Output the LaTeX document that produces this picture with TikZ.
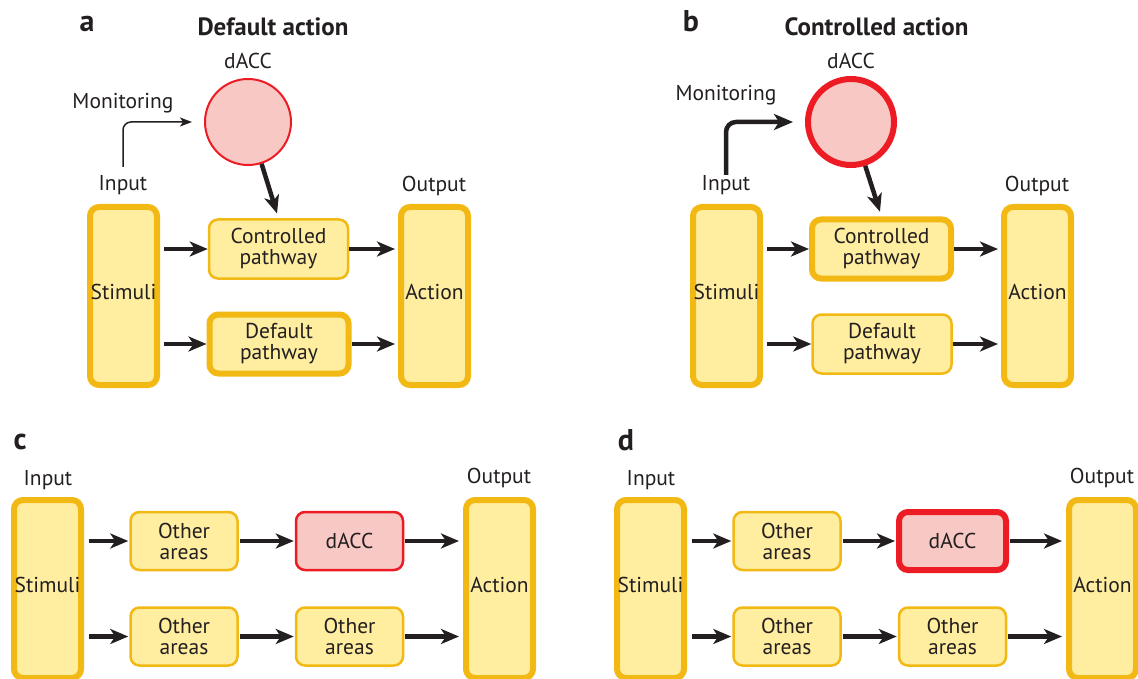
\documentclass[tikz,border=0pt]{standalone}
\usepackage{fontspec}
\setmainfont{PT Sans}
\usetikzlibrary{arrows.meta}

\definecolor{boxFill}{RGB}{255,237,160}
\definecolor{boxLine}{RGB}{242,185,20}
\definecolor{accFill}{RGB}{248,200,196}
\definecolor{accLine}{RGB}{237,28,36}
\definecolor{ink}{RGB}{35,31,32}

\tikzset{
	every node/.append style={text=ink, font=\fontsize{21.5}{21}\selectfont},
	box/.style={draw=boxLine, fill=boxFill, rounded corners=9pt, align=center, inner sep=0pt},
	thinEdge/.style={line width=2.5pt},
	thickEdge/.style={line width=6pt},
	stimBox/.style={box, thickEdge, minimum width=67pt, minimum height=178pt, text depth=8pt},
	pathBox/.style={box, minimum width=139pt, minimum height=59pt},
	areaBox/.style={box, minimum width=107pt, minimum height=58pt},
	acc/.style={draw=accLine, fill=accFill},
	accCircle/.style={circle, acc, minimum size=86pt, inner sep=0pt},
	flowArrow/.style={draw=ink, line width=4.5pt, -{Stealth[length=18pt, width=15pt, inset=5pt]}},
	monitorThin/.style={draw=ink, line width=1.5pt, rounded corners=8pt, -{Stealth[length=12pt, width=9pt, inset=3pt]}},
	monitorThick/.style={draw=ink, line width=4.5pt, rounded corners=10pt, -{Stealth[length=19pt, width=16pt, inset=5pt]}},
	letter/.style={font=\bfseries\fontsize{30}{30}\selectfont},
	heading/.style={font=\bfseries\fontsize{25}{25}\selectfont},
}

% #1 x offset, #2 prefix, #3 controlled edge, #4 default edge,
% #5 dACC edge, #6 monitoring arrow, #7 monitoring label y, #8 monitoring start y
\newcommand{\actionPanel}[8]{
	\node[accCircle, #5] (#2acc) at ({#1+248}, 122) {};
	\node[stimBox] (#2stim) at ({#1+123.5}, 296) {Stimuli};
	\node[stimBox] (#2act) at ({#1+434.5}, 296) {Action};
	\node[pathBox, #3] (#2ctrl) at ({#1+278.5}, 249) {Controlled\\pathway};
	\node[pathBox, #4] (#2def) at ({#1+279}, 344) {Default\\pathway};

	\path ({#1+248}, 61) node (#2accText) {dACC};
	\path ({#1+123}, #7) node (#2monText) {Monitoring};
	\path ({#1+123}, 185.5) node (#2inText) {Input};
	\path ({#1+434}, 185.5) node (#2outText) {Output};

	\coordinate (#2mon) at ({#1+123}, #8);
	\draw[#6, shorten >=12pt] (#2mon) |- (#2acc.west);
	\draw[flowArrow, shorten >=5pt] (#2acc.-72) -- (#2ctrl.north);

	\draw[flowArrow, shorten <=4pt] (#2stim.east |- #2ctrl.west) -- (#2ctrl.west);
	\draw[flowArrow, shorten <=4pt] (#2stim.east |- #2def.west) -- (#2def.west);
	\draw[flowArrow, shorten >=3pt] (#2ctrl.east) -- (#2act.west |- #2ctrl.east);
	\draw[flowArrow, shorten >=3pt] (#2def.east) -- (#2act.west |- #2def.east);
}

% #1 x offset, #2 prefix, #3 dACC edge
\newcommand{\areaPanel}[3]{
	\node[stimBox] (#2stim) at ({#1+47.5}, 589) {Stimuli};
	\node[stimBox] (#2act) at ({#1+499.5}, 589) {Action};
	\node[areaBox, thinEdge] (#2upA) at ({#1+184}, 541) {Other\\areas};
	\node[areaBox, acc, #3] (#2upB) at ({#1+349.5}, 541) {dACC};
	\node[areaBox, thinEdge] (#2lowA) at ({#1+184}, 636.5) {Other\\areas};
	\node[areaBox, thinEdge] (#2lowB) at ({#1+349.5}, 636.5) {Other\\areas};

	\path ({#1+48}, 480) node (#2inText) {Input};
	\path ({#1+499}, 477.5) node (#2outText) {Output};

	\draw[flowArrow, shorten <=5pt, shorten >=1pt] (#2stim.east |- #2upA.west) -- (#2upA.west);
	\draw[flowArrow, shorten <=5pt, shorten >=1pt] (#2stim.east |- #2lowA.west) -- (#2lowA.west);
	\draw[flowArrow, shorten <=1pt, shorten >=1pt] (#2upA.east) -- (#2upB.west);
	\draw[flowArrow, shorten <=1pt, shorten >=1pt] (#2lowA.east) -- (#2lowB.west);
	\draw[flowArrow, shorten <=1pt, shorten >=4pt] (#2upB.east) -- (#2act.west |- #2upB.east);
	\draw[flowArrow, shorten <=1pt, shorten >=4pt] (#2lowB.east) -- (#2act.west |- #2lowB.east);
}

\begin{document}
\begin{tikzpicture}[x=1pt, y=-1pt]
	\useasboundingbox (0,0) rectangle (1138,679);

	\actionPanel{0}{A}{thinEdge}{thickEdge}{line width=2pt}{monitorThin}{103.5}{167};
	\actionPanel{603}{B}{thickEdge}{thinEdge}{line width=6pt}{monitorThick}{95}{175};

	\areaPanel{0}{C}{line width=2.5pt};
	\areaPanel{603}{D}{line width=6pt};

	\path (87, 23.5) node[letter] (aText) {a};
	\path (273, 26.5) node[heading] (aTitle) {Default action};
	\path (691, 21) node[letter] (bText) {b};
	\path (876.5, 26.5) node[heading] (bTitle) {Controlled action};
	\path (20, 442) node[letter] (cText) {c};
	\path (626, 440) node[letter] (dText) {d};
\end{tikzpicture}
\end{document}
